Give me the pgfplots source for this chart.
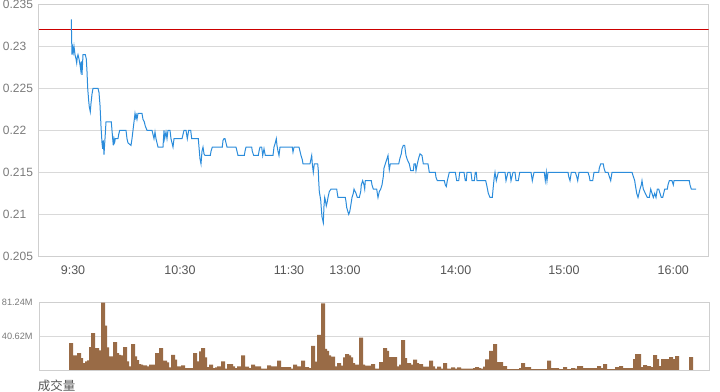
\documentclass[border=0pt]{standalone}
\usepackage{pgfplots}
\pgfplotsset{compat=1.18}
\usepackage{fontspec}
\setmainfont{Liberation Sans}
\newfontfamily\cjk{Noto Sans CJK SC}
\definecolor{priceblue}{HTML}{2B8CDB}
\definecolor{refred}{HTML}{CC0000}
\definecolor{gridgray}{HTML}{D9D9D9}
\definecolor{boxgray}{HTML}{CFCFCF}
\definecolor{barbrown}{HTML}{996B46}
\definecolor{ylab}{HTML}{7A7A7A}
\definecolor{xlab}{HTML}{555555}
\begin{document}
\begin{tikzpicture}
\path[use as bounding box] (0bp,0bp) rectangle (720bp,392bp);
% ---------- price panel ----------
\begin{axis}[
  at={(38.5bp,135.7bp)}, anchor=south west,
  scale only axis, width=670.2bp, height=252bp,
  xmin=38.5, xmax=708.7, ymin=0.205, ymax=0.235,
  axis line style={boxgray, line width=1bp},
  major tick length=0pt,
  ytick={0.205,0.21,0.215,0.22,0.225,0.23,0.235},
  yticklabels={0.205,0.21,0.215,0.22,0.225,0.23,0.235},
  ymajorgrids, major grid style={gridgray, line width=1bp},
  xtick={73,180,289,345,455.7,564,673.3},
  xticklabels={9:30,10:30,11:30,13:00,14:00,15:00,16:00},
  xticklabel style={font=\fontsize{12.5bp}{14bp}\selectfont, text=xlab, anchor=center, inner sep=0pt, yshift=-13.7bp},
  yticklabel style={font=\fontsize{12bp}{14bp}\selectfont, text=ylab, anchor=west, inner sep=0pt, xshift=-35.8bp},
]
\addplot[refred, line width=1bp] coordinates {(38.5,0.232)(708.7,0.232)};
\addplot[priceblue, line width=1bp] coordinates {
(71.3,0.2332)(71.6,0.2311)(72.0,0.2290)(72.7,0.2298)(73.3,0.2293)(74.0,0.2300)(75.0,0.2290)(76.0,0.2285)(76.7,0.2280)(77.3,0.2287)
(78.0,0.2290)(79.0,0.2285)(80.0,0.2278)(80.7,0.2272)(81.3,0.2282)(82.0,0.2266)(83.0,0.2290)(85.3,0.2290)(86.3,0.2285)(87.0,0.2270)
(87.7,0.2250)(88.7,0.2235)(89.3,0.2228)(90.3,0.2222)(91.0,0.2232)(92.0,0.2243)(93.0,0.2250)(98.0,0.2250)(99.0,0.2245)(100.0,0.2230)
(101.0,0.2205)(102.0,0.2185)(102.7,0.2178)(103.3,0.2188)(104.0,0.2171)(105.0,0.2190)(106.0,0.2210)(111.3,0.2210)(112.0,0.2200)(112.7,0.2190)
(113.3,0.2182)(114.0,0.2190)(114.7,0.2186)(115.3,0.2190)(118.0,0.2190)(118.7,0.2195)(119.7,0.2200)(126.0,0.2200)(127.0,0.2190)(128.0,0.2185)
(131.0,0.2182)(132.0,0.2190)(133.0,0.2200)(134.0,0.2210)(135.0,0.2220)(135.7,0.2215)(136.3,0.2218)(137.0,0.2213)(138.0,0.2220)(142.0,0.2220)
(143.0,0.2213)(144.3,0.2210)(145.3,0.2205)(147.0,0.2200)(152.0,0.2200)(153.0,0.2195)(154.0,0.2190)(155.0,0.2198)(156.0,0.2190)(157.0,0.2185)
(158.0,0.2180)(163.0,0.2180)(164.0,0.2200)(164.7,0.2190)(166.0,0.2198)(167.0,0.2190)(168.0,0.2200)(170.0,0.2200)(171.0,0.2190)(172.0,0.2185)
(173.0,0.2180)(174.0,0.2190)(182.0,0.2190)(183.0,0.2195)(184.0,0.2200)(186.0,0.2200)(187.3,0.2190)(188.7,0.2200)(190.7,0.2200)(191.7,0.2190)
(198.3,0.2190)(199.0,0.2180)(200.0,0.2166)(201.0,0.2160)(202.0,0.2175)(203.0,0.2180)(204.0,0.2172)(205.0,0.2170)(210.3,0.2170)(211.0,0.2175)
(212.3,0.2180)(222.3,0.2180)(223.0,0.2188)(224.0,0.2190)(225.0,0.2190)(226.0,0.2185)(227.0,0.2180)(236.0,0.2180)(237.0,0.2175)(238.0,0.2170)
(244.3,0.2170)(245.0,0.2175)(246.0,0.2180)(251.7,0.2180)(252.3,0.2175)(253.7,0.2170)(258.3,0.2170)(259.0,0.2175)(260.0,0.2180)(261.7,0.2180)
(262.7,0.2170)(264.0,0.2178)(265.3,0.2170)(273.0,0.2170)(274.0,0.2180)(275.3,0.2185)(276.3,0.2190)(277.0,0.2182)(278.0,0.2175)(279.0,0.2170)
(280.0,0.2180)(292.3,0.2180)(293.0,0.2174)(294.0,0.2180)(299.0,0.2180)(300.0,0.2175)(301.0,0.2170)(302.3,0.2165)(303.0,0.2160)(310.0,0.2160)
(311.0,0.2166)(311.7,0.2170)(312.3,0.2160)(313.3,0.2150)(314.3,0.2160)(317.7,0.2160)(318.3,0.2152)(318.7,0.2140)(319.3,0.2127)(320.7,0.2117)
(321.3,0.2107)(322.0,0.2097)(323.3,0.2090)(324.0,0.2110)(324.7,0.2120)(325.3,0.2117)(326.3,0.2110)(327.3,0.2115)(328.0,0.2120)(329.3,0.2127)
(331.0,0.2130)(336.7,0.2130)(337.3,0.2125)(338.0,0.2120)(345.3,0.2120)(346.0,0.2115)(346.7,0.2108)(348.7,0.2100)(349.7,0.2103)(350.7,0.2110)
(352.0,0.2120)(353.3,0.2125)(354.0,0.2130)(356.0,0.2125)(357.3,0.2120)(359.3,0.2120)(360.7,0.2127)(361.3,0.2135)(362.7,0.2140)(364.0,0.2135)
(364.7,0.2130)(365.3,0.2140)(371.3,0.2140)(372.0,0.2135)(373.3,0.2130)(376.7,0.2130)(377.3,0.2125)(378.0,0.2120)(379.3,0.2127)(380.7,0.2130)
(382.0,0.2135)(383.3,0.2145)(384.0,0.2155)(385.3,0.2160)(386.7,0.2165)(388.0,0.2170)(388.7,0.2160)(389.3,0.2153)(390.3,0.2160)(398.7,0.2160)
(400.0,0.2167)(401.3,0.2172)(402.0,0.2178)(403.3,0.2182)(404.7,0.2182)(405.3,0.2176)(406.0,0.2170)(407.3,0.2165)(409.3,0.2160)(410.7,0.2152)
(413.3,0.2152)(414.0,0.2160)(415.3,0.2160)(416.0,0.2152)(417.3,0.2160)(418.7,0.2167)(420.0,0.2172)(422.0,0.2170)(423.3,0.2160)(428.0,0.2160)
(429.3,0.2150)(435.3,0.2150)(436.0,0.2144)(437.3,0.2140)(444.3,0.2140)(445.3,0.2135)(446.3,0.2133)(447.3,0.2140)(449.3,0.2150)(455.3,0.2150)
(456.7,0.2140)(458.7,0.2140)(459.7,0.2150)(464.0,0.2150)(465.3,0.2140)(466.3,0.2140)(467.0,0.2150)(471.0,0.2150)(472.0,0.2140)(474.3,0.2140)
(475.3,0.2150)(476.3,0.2150)(477.0,0.2140)(485.7,0.2140)(487.0,0.2133)(488.3,0.2125)(490.0,0.2120)(492.3,0.2120)(493.3,0.2133)(494.3,0.2145)
(495.0,0.2150)(496.3,0.2140)(497.3,0.2145)(498.3,0.2150)(505.0,0.2150)(506.0,0.2140)(508.0,0.2150)(510.0,0.2150)(511.0,0.2140)(513.0,0.2150)
(515.0,0.2150)(516.0,0.2140)(518.3,0.2140)(519.7,0.2150)(531.0,0.2150)(532.3,0.2140)(534.0,0.2150)(544.3,0.2150)(545.3,0.2140)(546.3,0.2150)
(547.0,0.2140)(548.0,0.2150)(568.0,0.2150)(568.7,0.2145)(570.0,0.2140)(571.3,0.2150)(575.3,0.2150)(576.7,0.2145)(577.7,0.2140)(579.0,0.2150)
(588.0,0.2150)(589.3,0.2145)(590.0,0.2140)(592.7,0.2140)(594.0,0.2150)(598.7,0.2150)(599.3,0.2155)(600.7,0.2160)(603.3,0.2160)(604.0,0.2155)
(605.3,0.2150)(608.0,0.2150)(609.3,0.2145)(610.7,0.2140)(612.0,0.2150)(632.0,0.2150)(633.3,0.2145)(634.7,0.2140)(635.3,0.2135)(636.7,0.2125)
(638.0,0.2120)(639.0,0.2125)(640.0,0.2130)(641.3,0.2135)(642.0,0.2140)(643.3,0.2130)(645.3,0.2125)(647.3,0.2120)(649.3,0.2120)(650.7,0.2130)
(652.0,0.2125)(653.3,0.2120)(654.7,0.2125)(656.0,0.2120)(657.3,0.2130)(658.7,0.2130)(660.0,0.2125)(661.3,0.2120)(662.7,0.2120)(663.7,0.2125)
(664.7,0.2130)(667.3,0.2130)(668.0,0.2135)(669.3,0.2140)(672.0,0.2140)(673.3,0.2135)(674.0,0.2140)(689.3,0.2140)(690.0,0.2135)(691.3,0.2130)
(696.0,0.2130)};
\end{axis}
% ---------- volume panel ----------
\begin{axis}[
  at={(39bp,22bp)}, anchor=south west,
  scale only axis, width=670bp, height=67.3bp,
  xmin=-16, xmax=319, ymin=0, ymax=81.24,
  axis line style={boxgray, line width=1bp},
  major tick length=0pt,
  xtick=\empty,
  ytick={40.62,81.24},
  yticklabels={40.62M,81.24M},
  ymajorgrids, major grid style={gridgray, line width=1bp},
  yticklabel style={font=\fontsize{9.2bp}{11bp}\selectfont, text=ylab, anchor=west, inner sep=0pt, xshift=-37.3bp},
]
\addplot[ybar, bar width=2, bar shift=0pt, fill=barbrown, draw=none] table[row sep=\\, x expr=\coordindex, y=v] {
v\\
32.4\\15.2\\17.6\\11.2\\20.4\\14.4\\7.2\\8.4\\10.4\\11.6\\
27.6\\44.4\\13.2\\26.4\\21.2\\23.6\\81.2\\53.6\\27.2\\
10.4\\16.4\\15.5\\33.6\\20.4\\18.4\\17.2\\17.6\\27.6\\10.4\\
4.4\\4.4\\31.2\\16.4\\12.0\\7.2\\6.4\\4.4\\5.6\\3.2\\
4.4\\6.4\\6.4\\5.6\\20.4\\11.2\\26.4\\8.4\\11.2\\9.2\\
2.4\\3.2\\18.4\\12.4\\4.4\\4.4\\2.4\\5.6\\2.4\\2.4\\
2.4\\2.4\\2.4\\20.4\\2.4\\10.4\\22.4\\26.4\\15.2\\3.6\\
3.6\\6.4\\2.4\\1.6\\3.2\\4.4\\1.6\\10.4\\1.6\\1.6\\
7.2\\7.2\\4.4\\2.4\\1.6\\4.4\\1.6\\17.6\\2.4\\4.0\\
2.4\\1.6\\6.4\\4.4\\2.4\\4.4\\1.6\\1.6\\1.6\\1.6\\
5.6\\1.6\\4.4\\4.4\\1.6\\
11.2\\3.6\\3.6\\1.6\\3.6\\3.6\\1.6\\1.6\\6.4\\2.4\\
4.4\\3.6\\11.2\\3.6\\3.6\\1.6\\2.4\\29.2\\10.0\\5.6\\
42.4\\37.6\\80.4\\25.6\\23.2\\17.6\\4.4\\16.0\\4.4\\2.4\\
8.4\\5.2\\2.4\\15.2\\19.2\\17.6\\15.2\\8.4\\6.4\\4.4\\
6.4\\39.2\\6.4\\4.0\\5.2\\5.2\\5.2\\7.2\\1.6\\1.6\\
1.6\\9.6\\6.4\\26.4\\23.2\\8.4\\15.6\\3.2\\15.6\\4.4\\
1.6\\6.4\\36.0\\14.4\\4.0\\8.4\\4.4\\6.4\\12.4\\8.4\\
4.4\\7.2\\2.4\\4.0\\1.6\\4.0\\11.2\\4.4\\1.6\\1.6\\
4.0\\1.6\\1.6\\8.4\\1.6\\1.6\\1.6\\3.2\\1.6\\1.6\\
3.2\\1.6\\1.6\\1.6\\1.6\\1.6\\1.6\\1.6\\2.4\\3.6\\
2.4\\1.6\\1.6\\4.0\\12.8\\1.6\\
23.2\\0.6\\31.2\\9.6\\4.0\\9.6\\4.8\\4.8\\1.0\\1.0\\
1.0\\1.0\\1.0\\1.0\\1.0\\2.4\\8.4\\3.6\\1.2\\3.6\\
1.0\\1.0\\1.0\\1.0\\1.0\\1.0\\1.0\\1.0\\1.0\\11.2\\
1.2\\2.4\\2.4\\2.4\\1.2\\1.2\\1.2\\3.6\\1.2\\1.2\\
1.2\\2.4\\1.6\\1.2\\4.8\\4.8\\1.2\\2.4\\1.2\\2.4\\
1.2\\2.4\\1.2\\2.4\\4.8\\2.4\\2.4\\7.2\\1.2\\1.2\\
1.2\\1.2\\1.2\\3.6\\1.2\\4.8\\1.2\\2.4\\1.2\\2.4\\
1.2\\2.4\\13.2\\19.2\\19.2\\3.6\\3.6\\6.0\\3.6\\4.8\\
1.2\\3.6\\18.0\\13.2\\1.2\\4.8\\13.2\\3.6\\13.2\\4.8\\
15.6\\1.2\\13.2\\16.8\\0\\0\\0\\0\\0\\0\\
15.6\\
};
\end{axis}
\node[anchor=west, inner sep=0pt, text=xlab] at (37.7bp,6bp) {\cjk\fontsize{12.5bp}{14bp}\selectfont 成交量};
\end{tikzpicture}
\end{document}
